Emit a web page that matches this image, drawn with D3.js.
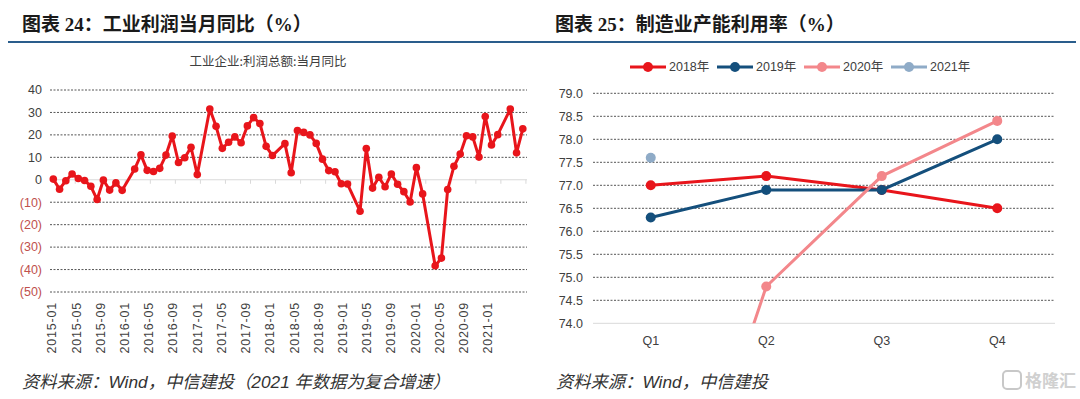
<!DOCTYPE html>
<html>
<head>
<meta charset="utf-8">
<script src="https://cdn.jsdelivr.net/npm/d3@7"></script>
<style>
  body { margin: 0; background: #fff; }
  svg { display: block; }
</style>
</head>
<body>
<div id="chart"></div>
<script>
// left chart: monthly yoy profit, January folded into Feb (null)
var profitYears = [2015, 2016, 2017, 2018, 2019, 2020, 2021];
var profit2015 = [0.3, -4.2, -0.4, 2.6, 0.6, -0.3, -2.9, -8.8, -0.1, -4.6, -1.4, -4.7];
var profit2016 = [null, 4.8, 11.1, 4.2, 3.7, 5.1, 11.0, 19.5, 7.7, 9.8, 14.5, 2.3];
var profit2017 = [null, 31.5, 23.8, 14.0, 16.7, 19.1, 16.5, 24.0, 27.7, 25.1, 14.9, 10.8];
var profit2018 = [null, 16.1, 3.1, 21.9, 21.1, 20.0, 16.2, 9.2, 4.1, 3.6, -1.8, -1.9];
var profit2019 = [null, -14.0, 13.9, -3.7, 1.1, -3.1, 2.6, -2.0, -5.3, -9.9, 5.4, -6.3];
var profit2020 = [null, -38.3, -34.9, -4.3, 6.0, 11.5, 19.6, 19.1, 10.1, 28.2, 15.5, 20.1];
var profit2021 = [null, 31.5, 12.0, 22.7];
var profitTicks = [40, 30, 20, 10, 0, -10, -20, -30, -40, -50];
var monthLabels = ["2015-01", "2015-05", "2015-09", "2016-01", "2016-05", "2016-09",
  "2017-01", "2017-05", "2017-09", "2018-01", "2018-05", "2018-09", "2019-01",
  "2019-05", "2019-09", "2020-01", "2020-05", "2020-09", "2021-01"];

// right chart: capacity utilisation by quarter
var quarters = ["Q1", "Q2", "Q3", "Q4"];
var capYears = ["2018年", "2019年", "2020年", "2021年"];
var cap2018 = [77.0, 77.2, 76.9, 76.5];
var cap2019 = [76.3, 76.9, 76.9, 78.0];
var cap2020 = [67.3, 74.8, 77.2, 78.4];
var cap2021 = [77.6, null, null, null];
var capTicks = [74.0, 74.5, 75.0, 75.5, 76.0, 76.5, 77.0, 77.5, 78.0, 78.5, 79.0];
var capColors = ["#e8151b", "#144f7c", "#f3878b", "#8fabc7"];

var W = 1080, H = 399;
var svg = d3.select("#chart").append("svg")
  .attr("width", W).attr("height", H);

var cjk = "'Noto Sans CJK SC', sans-serif";
var num = "'Liberation Sans', Arial, sans-serif";

// ---- headers ----
function header(x0, x1, tx, label) {
  svg.append("text")
    .attr("x", tx).attr("y", 31)
    .style("font-family", "'Liberation Serif', 'Noto Sans CJK SC', serif")
    .style("font-weight", "bold")
    .style("font-size", "19px")
    .attr("fill", "#1a1a1a")
    .text(label);
  svg.append("line")
    .attr("x1", x0).attr("x2", x1)
    .attr("y1", 42).attr("y2", 42)
    .attr("stroke", "#2a5d8c")
    .attr("stroke-width", 2.2);
}
header(8, 540, 22, "图表 24：工业利润当月同比（%）");
header(540, 1076, 555, "图表 25：制造业产能利用率（%）");

function footer(x, label) {
  svg.append("text")
    .attr("x", x).attr("y", 388)
    .style("font-family", "'Liberation Sans', 'Noto Sans CJK SC', sans-serif")
    .style("font-style", "italic")
    .style("font-size", "17.3px")
    .attr("fill", "#333")
    .text(label);
}
footer(22, "资料来源：Wind，中信建投（2021 年数据为复合增速）");
footer(556, "资料来源：Wind，中信建投");

// ---- left chart ----
var profitData = [];
var allYears = [profit2015, profit2016, profit2017, profit2018, profit2019, profit2020, profit2021];
allYears.forEach(function (arr, yi) {
  arr.forEach(function (v, m) {
    profitData.push({ idx: yi * 12 + m, year: profitYears[yi], value: v });
  });
});
var nMonths = profitData.length;

var xL = d3.scaleLinear().domain([0, nMonths - 1]).range([53.3, 522.8]);
var yL = d3.scaleLinear().domain([-50, 40]).range([292, 90]);
var xLabel = d3.scalePoint().domain(monthLabels).range([52, 488]);

var left = svg.append("g");

left.append("text")
  .attr("x", 268).attr("y", 66)
  .attr("text-anchor", "middle")
  .style("font-family", cjk)
  .style("font-size", "12.5px")
  .attr("fill", "#404040")
  .text("工业企业:利润总额:当月同比");

left.selectAll(".gridL")
  .data(profitTicks.filter(function (d) { return d !== 0; }))
  .enter().append("line")
  .attr("x1", 50).attr("x2", 527)
  .attr("y1", function (d) { return yL(d); })
  .attr("y2", function (d) { return yL(d); })
  .attr("stroke", "#555")
  .attr("stroke-width", 1)
  .attr("stroke-dasharray", "2,1.5");

left.append("line")
  .attr("x1", 50).attr("x2", 527)
  .attr("y1", yL(0)).attr("y2", yL(0))
  .attr("stroke", "#d9d9d9");

var tickIdx = d3.range(3.5, nMonths, 4);
left.selectAll(".tickL")
  .data(tickIdx)
  .enter().append("line")
  .attr("x1", function (d) { return xL(d); })
  .attr("x2", function (d) { return xL(d); })
  .attr("y1", yL(0)).attr("y2", yL(0) + 4)
  .attr("stroke", "#d9d9d9");

left.selectAll(".ylab")
  .data(profitTicks)
  .enter().append("text")
  .attr("x", 42)
  .attr("y", function (d) { return yL(d); })
  .attr("dy", "0.35em")
  .attr("text-anchor", "end")
  .style("font-family", num)
  .style("font-size", "12.5px")
  .attr("fill", function (d) { return d < 0 ? "#c0504d" : "#404040"; })
  .text(function (d) { return d < 0 ? "(" + (-d) + ")" : d; });

left.selectAll(".xlab")
  .data(monthLabels)
  .enter().append("text")
  .attr("transform", function (d) { return "translate(" + xLabel(d) + ",302) rotate(-90)"; })
  .attr("dy", "0.35em")
  .attr("text-anchor", "end")
  .style("font-family", num)
  .style("font-size", "12.5px")
  .style("letter-spacing", "0.8px")
  .attr("fill", "#404040")
  .text(function (d) { return d; });

var pts = profitData.filter(function (d) { return d.value !== null; });
var lineL = d3.line()
  .x(function (d) { return xL(d.idx); })
  .y(function (d) { return yL(d.value); });

left.append("path")
  .datum(pts)
  .attr("d", lineL)
  .attr("fill", "none")
  .attr("stroke", "#e8151b")
  .attr("stroke-width", 3)
  .attr("stroke-linejoin", "round");

left.selectAll(".dotL")
  .data(pts)
  .enter().append("circle")
  .attr("cx", function (d) { return xL(d.idx); })
  .attr("cy", function (d) { return yL(d.value); })
  .attr("r", 3.8)
  .attr("fill", "#e8151b");

// ---- right chart ----
var xR = d3.scaleBand().domain(quarters).range([593, 1055]);
var yR = d3.scaleLinear().domain([74, 79]).range([323.3, 93.3]);
var cx = function (q) { return xR(q) + xR.bandwidth() / 2; };

var right = svg.append("g");

right.append("clipPath").attr("id", "clipR")
  .append("rect")
  .attr("x", 593).attr("y", 80)
  .attr("width", 462).attr("height", yR(74) - 80);

right.selectAll(".gridR")
  .data(capTicks.filter(function (d) { return d > 74; }))
  .enter().append("line")
  .attr("x1", 593).attr("x2", 1055)
  .attr("y1", function (d) { return yR(d); })
  .attr("y2", function (d) { return yR(d); })
  .attr("stroke", "#555")
  .attr("stroke-width", 1)
  .attr("stroke-dasharray", "2,1.5");

right.append("line")
  .attr("x1", 593).attr("x2", 1055)
  .attr("y1", yR(74)).attr("y2", yR(74))
  .attr("stroke", "#d9d9d9");

right.selectAll(".ylabR")
  .data(capTicks)
  .enter().append("text")
  .attr("x", 583)
  .attr("y", function (d) { return yR(d); })
  .attr("dy", "0.35em")
  .attr("text-anchor", "end")
  .style("font-family", num)
  .style("font-size", "12.5px")
  .attr("fill", "#404040")
  .text(function (d) { return d.toFixed(1); });

right.selectAll(".xlabR")
  .data(quarters)
  .enter().append("text")
  .attr("x", function (d) { return cx(d); })
  .attr("y", 341)
  .attr("dy", "0.35em")
  .attr("text-anchor", "middle")
  .style("font-family", num)
  .style("font-size", "12.5px")
  .attr("fill", "#404040")
  .text(function (d) { return d; });

var capSeries = [cap2018, cap2019, cap2020, cap2021];
var lineR = d3.line()
  .defined(function (d) { return d !== null; })
  .x(function (d, i) { return cx(quarters[i]); })
  .y(function (d) { return yR(d); });

capSeries.forEach(function (arr, si) {
  var g = right.append("g").attr("clip-path", "url(#clipR)");
  g.append("path")
    .datum(arr)
    .attr("d", lineR)
    .attr("fill", "none")
    .attr("stroke", capColors[si])
    .attr("stroke-width", 3);
  g.selectAll("circle")
    .data(arr.map(function (v, i) { return { q: quarters[i], v: v }; })
      .filter(function (d) { return d.v !== null && d.v >= 74; }))
    .enter().append("circle")
    .attr("cx", function (d) { return cx(d.q); })
    .attr("cy", function (d) { return yR(d.v); })
    .attr("r", 5)
    .attr("fill", capColors[si]);
});

// legend
var legX = [630, 717, 804, 891];
var leg = right.selectAll(".leg")
  .data(capYears)
  .enter().append("g")
  .attr("transform", function (d, i) { return "translate(" + legX[i] + ",67)"; });
leg.append("line")
  .attr("x1", 0).attr("x2", 36)
  .attr("stroke", function (d, i) { return capColors[i]; })
  .attr("stroke-width", 3);
leg.append("circle")
  .attr("cx", 18).attr("r", 5)
  .attr("fill", function (d, i) { return capColors[i]; });
leg.append("text")
  .attr("x", 39)
  .attr("dy", "0.35em")
  .style("font-family", num + ", " + cjk)
  .style("font-size", "12.5px")
  .attr("fill", "#404040")
  .text(function (d) { return d; });

// watermark
var wm = svg.append("g").attr("transform", "translate(1003,371)");
wm.append("rect")
  .attr("width", 18).attr("height", 18).attr("rx", 4)
  .attr("fill", "none").attr("stroke", "#c8c8c8").attr("stroke-width", 2);
wm.append("text")
  .attr("x", 22).attr("y", 16)
  .style("font-family", cjk)
  .style("font-size", "17px")
  .style("font-weight", "bold")
  .attr("fill", "#d0d0d0")
  .text("格隆汇");
</script>
</body>
</html>
